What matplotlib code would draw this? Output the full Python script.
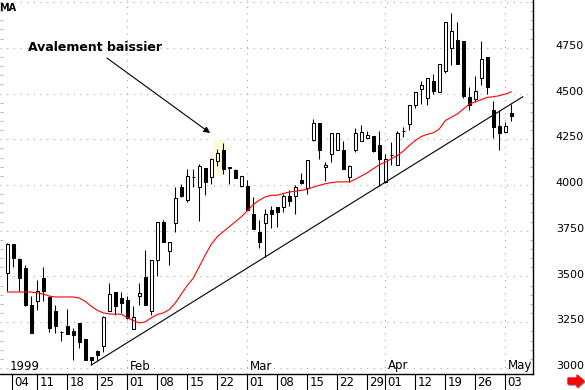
import matplotlib
matplotlib.use('Agg')
import matplotlib.pyplot as plt
import matplotlib.transforms as mtransforms
from matplotlib.patches import Rectangle, FancyArrow
from matplotlib.ticker import MultipleLocator

# Cours journaliers (jan - mai 1999)
opens = [3518, 3678, 3596, 3545, 3346, 3368, 3491, 3386, 3310, 3197,
         3232, 3201, 3246, 3161, 3060, 3092, 3120, 3313, 3413, 3382,
         3370, 3214, 3391, 3495, 3310, 3591, 3795, 3640, 3790, 3989,
         3917, 4044, 3989, 4093, 4044, 4129, 4189, 4098, 4080, 3995,
         3995, 3839, 3745, 3790, 3863, 3881, 3881, 3939, 3939, 4026,
         3984, 4247, 4337, 4098, 4167, 4189, 4189, 4044, 4189, 4238,
         4258, 4265, 4216, 4015, 4165, 4111, 4297, 4334, 4437, 4524,
         4475, 4569, 4509, 4624, 4747, 4792, 4787, 4482, 4470, 4584,
         4701, 4412, 4321, 4292, 4392]
highs = [3681, 3678, 3600, 3560, 3391, 3482, 3554, 3391, 3346, 3201,
         3324, 3216, 3246, 3161, 3060, 3096, 3283, 3464, 3413, 3413,
         3391, 3337, 3464, 3645, 3591, 3795, 3808, 3687, 3989, 4007,
         4085, 4085, 4113, 4093, 4147, 4194, 4229, 4100, 4085, 4047,
         4026, 3935, 3808, 3868, 3886, 3881, 3953, 3971, 4002, 4065,
         4134, 4361, 4337, 4125, 4285, 4283, 4238, 4107, 4310, 4330,
         4297, 4265, 4297, 4171, 4234, 4297, 4316, 4439, 4506, 4569,
         4582, 4609, 4663, 4892, 4941, 4892, 4787, 4533, 4596, 4787,
         4701, 4460, 4412, 4346, 4442]
lows = [3419, 3551, 3419, 3340, 3192, 3319, 3364, 3198, 3192, 3150,
        3187, 3042, 3111, 3042, 3016, 3038, 3089, 3313, 3292, 3301,
        3270, 3214, 3346, 3342, 3288, 3500, 3690, 3564, 3745, 3935,
        3908, 3989, 3803, 3944, 4007, 4104, 4058, 4007, 4040, 3989,
        3863, 3757, 3654, 3609, 3766, 3772, 3850, 3886, 3839, 4007,
        3953, 4239, 4140, 4022, 4125, 4189, 4089, 4017, 4180, 4238,
        4258, 4180, 3995, 4010, 4107, 4111, 4261, 4303, 4419, 4442,
        4439, 4497, 4506, 4614, 4654, 4660, 4473, 4410, 4451, 4546,
        4497, 4258, 4189, 4292, 4352]
closes = [3678, 3600, 3491, 3346, 3192, 3422, 3422, 3219, 3228, 3197,
          3187, 3179, 3143, 3042, 3042, 3069, 3277, 3404, 3337, 3355,
          3274, 3277, 3410, 3342, 3591, 3795, 3690, 3687, 3930, 3939,
          4049, 4044, 4102, 4017, 4140, 4176, 4089, 4093, 4040, 4047,
          3866, 3757, 3687, 3841, 3839, 3850, 3939, 3911, 3989, 4011,
          4134, 4337, 4189, 4107, 4285, 4283, 4089, 4102, 4283, 4292,
          4274, 4185, 4143, 4140, 4163, 4283, 4295, 4439, 4506, 4547,
          4582, 4515, 4663, 4892, 4841, 4660, 4484, 4439, 4515, 4691,
          4533, 4319, 4285, 4325, 4375]

# Moyenne mobile (ligne rouge)
ma_values = [3415, 3415, 3415, 3415, 3415, 3410, 3404, 3393, 3388, 3388,
             3388, 3388, 3382, 3364, 3337, 3315, 3301, 3295, 3294, 3294,
             3274, 3259, 3246, 3252, 3274, 3292, 3301, 3319, 3355, 3404,
             3451, 3491, 3554, 3618, 3676, 3718, 3745, 3772, 3799, 3826,
             3859, 3893, 3917, 3935, 3944, 3944, 3953, 3962, 3966, 3971,
             3977, 3988, 3998, 4007, 4013, 4017, 4017, 4017, 4031, 4049,
             4067, 4089, 4111, 4125, 4143, 4161, 4185, 4216, 4243, 4265,
             4277, 4285, 4306, 4352, 4370, 4388, 4415, 4442, 4455, 4466,
             4479, 4482, 4488, 4497, 4509]

# Ligne de tendance
trend_days = [14, 85.9]
trend_values = [3016, 4482]

# Axe des dates (index de seance)
week_labels = ['04', '11', '18', '25', '01', '08', '15', '22', '01', '08',
               '15', '22', '29', '01', '12', '19', '26', '03']
week_days = [0.73, 5, 10, 15, 20, 25, 30, 35, 40, 45,
             50, 55, 60, 63, 68, 73, 78, 83]
month_labels = ['1999', 'Feb', 'Mar', 'Apr', 'May']
month_days = [0, 20, 40, 63, 83]

y_ticks = [3000, 3250, 3500, 3750, 4000, 4250, 4500, 4750, 5000]

days = list(range(len(opens)))
grid_color = '#a8a8a8'

fig = plt.figure(figsize=(5.85, 3.9), dpi=100)
ax = fig.add_axes([0, 16 / 390, 533 / 585, 374 / 390])
ax.set_xlim(-1.217, 87.62)
ax.set_ylim(2967, 5011)

# Grille pointillee
for v in y_ticks:
    ax.axhline(v, color=grid_color, lw=0.8, ls=(0, (1, 5)), zorder=0)
for d in month_days[1:]:
    ax.axvline(d, color=grid_color, lw=0.8, ls=(0, (1, 5)), zorder=0)

# Zone surlignee (avalement baissier)
hl_low = min(lows[35:37]) - 5
hl_high = max(highs[35:37]) + 25
ax.add_patch(Rectangle((34.45, hl_low), 2.05, hl_high - hl_low,
                       facecolor='#fcfcd6', edgecolor='none', zorder=1))

# Chandeliers
ax.vlines(days, lows, highs, color='black', lw=0.75, zorder=3)
colors = ['white' if c >= o else 'black' for o, c in zip(opens, closes)]
bottoms = [min(o, c) for o, c in zip(opens, closes)]
heights = [abs(c - o) for o, c in zip(opens, closes)]
ax.bar(days, heights, bottom=bottoms, width=0.5, color=colors,
       edgecolor='black', linewidth=0.75, zorder=4)

# Moyenne mobile et tendance
ax.plot(days, ma_values, color='red', lw=0.8, zorder=5)
ax.plot(trend_days, trend_values, color='black', lw=0.8, zorder=5)

# Annotation
ax.text(3.45, 4754, 'Avalement baissier', fontsize=9, fontweight='bold',
        ha='left', va='center')
ax.annotate('', xy=(33.8, 4284), xytext=(16.6, 4694),
            arrowprops=dict(arrowstyle='-|>', color='black', lw=0.8,
                            mutation_scale=9, shrinkA=0, shrinkB=0))

# Cadre
for side in ['left', 'top']:
    ax.spines[side].set_visible(False)
for side in ['right', 'bottom']:
    ax.spines[side].set_color('black')
    ax.spines[side].set_linewidth(1)

# Axe des prix a droite
ax.set_xticks([])
ax.yaxis.tick_right()
ax.set_yticks(y_ticks[:-1])
ax.set_yticklabels([str(v) for v in y_ticks[:-1]])
ax.yaxis.set_minor_locator(MultipleLocator(50))
ax.tick_params(axis='y', which='major', length=0, pad=16.5, labelsize=8)
ax.tick_params(axis='y', which='minor', direction='in', length=2.2,
               color=grid_color, left=True, right=True)
shift = mtransforms.ScaledTranslation(0, 2 / 72, fig.dpi_scale_trans)
for lbl in ax.get_yticklabels():
    lbl.set_transform(lbl.get_transform() + shift)

# Axe des dates en bas
trans = mtransforms.blended_transform_factory(ax.transData, ax.transAxes)
for d, lab in zip(week_days, week_labels):
    ax.plot([d, d], [0, -16 / 374], transform=trans, color='black', lw=0.8,
            clip_on=False)
    ax.text(d + 0.35, -8.5 / 374, lab, transform=trans, ha='left',
            va='center', fontsize=8.5)
for d, lab in zip(month_days, month_labels):
    ax.text(d + 0.45, 1.5 / 374, lab, transform=trans, ha='left',
            va='bottom', fontsize=8.5)

# Titre tronque en haut a gauche
fig.text(-1 / 585, 1 - 3 / 390, 'MA', fontsize=7, fontweight='bold',
         ha='left', va='top')

# Fleche rouge en bas a droite
fig.add_artist(FancyArrow(5.69, 0.08, 0.09, 0, width=0.06, head_width=0.12,
                          head_length=0.07, color='#808080',
                          transform=fig.dpi_scale_trans))
fig.add_artist(FancyArrow(5.68, 0.09, 0.09, 0, width=0.06, head_width=0.12,
                          head_length=0.07, color='red',
                          transform=fig.dpi_scale_trans))

fig.savefig('out.png', dpi=100)
